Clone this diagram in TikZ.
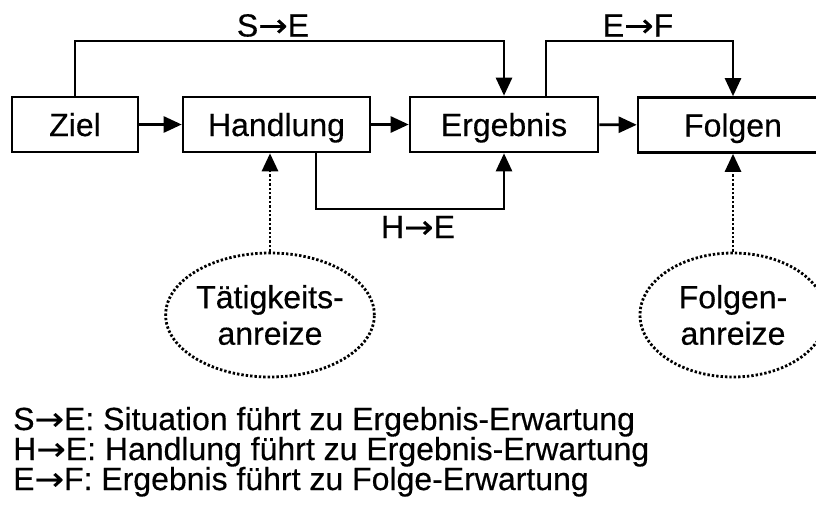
\documentclass[tikz,border=0pt]{standalone}
\usepackage{fontspec}
\usepackage{graphicx}
\setmainfont{Liberation Sans}[FakeBold=0.4]
\newfontfamily\myarrowfont{DejaVu Sans}[FakeBold=0.4]
\newcommand\sarr{{\myarrowfont\scalebox{1.1}[1]{→}}}
\usetikzlibrary{arrows.meta,shapes.geometric,calc}
\begin{document}
\begin{tikzpicture}[x=1pt,y=-1pt,
  txt/.style={font=\fontsize{32}{36.5}\selectfont},
  box/.style={draw,line width=2.6pt,minimum height=55pt,inner sep=0pt,txt,text height=23pt,text depth=0pt},
  tip/.style={-{Triangle[length=18pt,width=16pt]}},
  conn/.style={line width=2.6pt,tip},
  dots/.style={line width=2.8pt,dash pattern=on 2.4pt off 2pt},
  ell/.style={ellipse,draw,dots,minimum width=186pt,minimum height=124pt,inner sep=0pt,align=center,txt},
  lab/.style={txt,inner sep=0pt}
]
\useasboundingbox (0,0) rectangle (816,512);
\clip (0,0) rectangle (816,512);
\node[box,minimum width=126pt] (ziel) at (75,124.5) {Ziel};
\node[box,minimum width=187pt] (hand) at (276.5,124.5) {Handlung};
\node[box,minimum width=188pt] (erg) at (504,124.5) {Ergebnis};
\node[box,minimum width=190pt] (fol) at (733,125) {Folgen};
\node[ell] (tat) at (270,315) {Tätigkeits-\\anreize};
\node[ell] (fa) at (733,315) {Folgen-\\anreize};
\coordinate (topy) at (0,41);
\coordinate (boty) at (0,209);
\draw[conn] (ziel) -- (hand);
\draw[conn] (hand) -- (erg);
\draw[conn] (erg) -- (fol);
\draw[conn] (ziel.north) -- (ziel.north |- topy) -| (erg.north);
\coordinate (efs) at ($(erg.north)+(42,0)$);
\draw[conn] (efs) -- (efs |- topy) -| (fol.north);
\coordinate (hes) at ($(hand.south)+(39.5,0)$);
\draw[conn] (hes) -- (hes |- boty) -| (erg.south);
\draw[dots,tip] (tat.north) -- (tat.north |- hand.south);
\draw[dots,tip] (fa.north) -- (fol.south);
\node[lab,anchor=base] (lse) at (273,36.5) {S\sarr E};
\node[lab,anchor=base] (lef) at (638,36.5) {E\sarr F};
\node[lab,anchor=base] (lhe) at (418,238) {H\sarr E};
\node[lab,anchor=base west] (l1) at (13,430) {S\sarr E: Situation führt zu Ergebnis-Erwartung};
\node[lab,anchor=base west] (l2) at (13,460) {H\sarr E: Handlung führt zu Ergebnis-Erwartung};
\node[lab,anchor=base west] (l3) at (13,490) {E\sarr F: Ergebnis führt zu Folge-Erwartung};
\end{tikzpicture}
\end{document}
